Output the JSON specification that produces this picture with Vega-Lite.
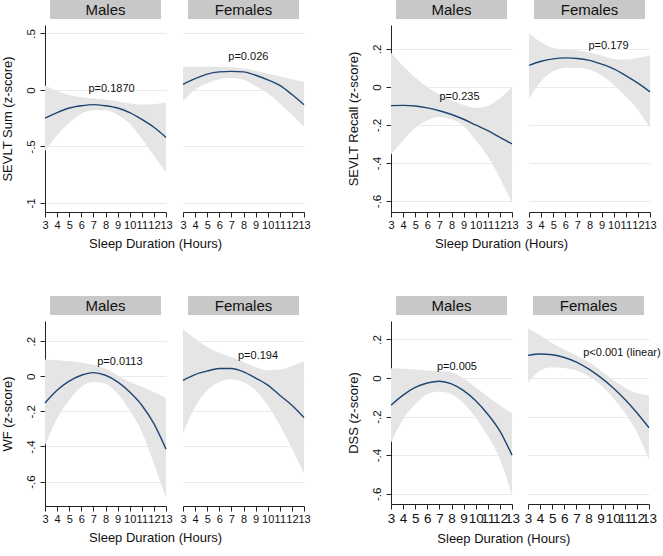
{
  "$schema": "https://vega.github.io/schema/vega-lite/v6.json",
  "padding": 0,
  "background": "white",
  "datasets": {
    "curves": [
      {"panel":"A","sex":"Males","hours":3,"fit":-0.25,"lower":-0.54,"upper":0.04},
      {"panel":"A","sex":"Males","hours":4,"fit":-0.20,"lower":-0.40,"upper":-0.01},
      {"panel":"A","sex":"Males","hours":5,"fit":-0.16,"lower":-0.29,"upper":-0.045},
      {"panel":"A","sex":"Males","hours":6,"fit":-0.14,"lower":-0.21,"upper":-0.065},
      {"panel":"A","sex":"Males","hours":7,"fit":-0.13,"lower":-0.18,"upper":-0.075},
      {"panel":"A","sex":"Males","hours":8,"fit":-0.14,"lower":-0.18,"upper":-0.085},
      {"panel":"A","sex":"Males","hours":9,"fit":-0.16,"lower":-0.22,"upper":-0.10},
      {"panel":"A","sex":"Males","hours":10,"fit":-0.20,"lower":-0.30,"upper":-0.12},
      {"panel":"A","sex":"Males","hours":11,"fit":-0.26,"lower":-0.43,"upper":-0.13},
      {"panel":"A","sex":"Males","hours":12,"fit":-0.33,"lower":-0.58,"upper":-0.125},
      {"panel":"A","sex":"Males","hours":13,"fit":-0.42,"lower":-0.73,"upper":-0.11},
      {"panel":"A","sex":"Females","hours":3,"fit":0.05,"lower":-0.10,"upper":0.205},
      {"panel":"A","sex":"Females","hours":4,"fit":0.10,"lower":0.005,"upper":0.205},
      {"panel":"A","sex":"Females","hours":5,"fit":0.14,"lower":0.06,"upper":0.205},
      {"panel":"A","sex":"Females","hours":6,"fit":0.16,"lower":0.095,"upper":0.205},
      {"panel":"A","sex":"Females","hours":7,"fit":0.165,"lower":0.105,"upper":0.20},
      {"panel":"A","sex":"Females","hours":8,"fit":0.16,"lower":0.09,"upper":0.19},
      {"panel":"A","sex":"Females","hours":9,"fit":0.13,"lower":0.035,"upper":0.17},
      {"panel":"A","sex":"Females","hours":10,"fit":0.09,"lower":-0.03,"upper":0.145},
      {"panel":"A","sex":"Females","hours":11,"fit":0.04,"lower":-0.12,"upper":0.12},
      {"panel":"A","sex":"Females","hours":12,"fit":-0.04,"lower":-0.22,"upper":0.095},
      {"panel":"A","sex":"Females","hours":13,"fit":-0.13,"lower":-0.325,"upper":0.07},
      {"panel":"B","sex":"Males","hours":3,"fit":-0.098,"lower":-0.356,"upper":0.18},
      {"panel":"B","sex":"Males","hours":4,"fit":-0.097,"lower":-0.28,"upper":0.11},
      {"panel":"B","sex":"Males","hours":5,"fit":-0.10,"lower":-0.215,"upper":0.05},
      {"panel":"B","sex":"Males","hours":6,"fit":-0.11,"lower":-0.175,"upper":0.0},
      {"panel":"B","sex":"Males","hours":7,"fit":-0.125,"lower":-0.158,"upper":-0.04},
      {"panel":"B","sex":"Males","hours":8,"fit":-0.145,"lower":-0.17,"upper":-0.07},
      {"panel":"B","sex":"Males","hours":9,"fit":-0.17,"lower":-0.205,"upper":-0.095},
      {"panel":"B","sex":"Males","hours":10,"fit":-0.20,"lower":-0.28,"upper":-0.11},
      {"panel":"B","sex":"Males","hours":11,"fit":-0.23,"lower":-0.365,"upper":-0.10},
      {"panel":"B","sex":"Males","hours":12,"fit":-0.265,"lower":-0.48,"upper":-0.06},
      {"panel":"B","sex":"Males","hours":13,"fit":-0.30,"lower":-0.61,"upper":0.0},
      {"panel":"B","sex":"Females","hours":3,"fit":0.114,"lower":-0.061,"upper":0.284},
      {"panel":"B","sex":"Females","hours":4,"fit":0.135,"lower":0.03,"upper":0.235},
      {"panel":"B","sex":"Females","hours":5,"fit":0.148,"lower":0.082,"upper":0.205},
      {"panel":"B","sex":"Females","hours":6,"fit":0.153,"lower":0.10,"upper":0.196},
      {"panel":"B","sex":"Females","hours":7,"fit":0.15,"lower":0.10,"upper":0.193},
      {"panel":"B","sex":"Females","hours":8,"fit":0.14,"lower":0.09,"upper":0.18},
      {"panel":"B","sex":"Females","hours":9,"fit":0.12,"lower":0.06,"upper":0.165},
      {"panel":"B","sex":"Females","hours":10,"fit":0.095,"lower":0.012,"upper":0.147},
      {"panel":"B","sex":"Females","hours":11,"fit":0.06,"lower":-0.05,"upper":0.144},
      {"panel":"B","sex":"Females","hours":12,"fit":0.02,"lower":-0.12,"upper":0.153},
      {"panel":"B","sex":"Females","hours":13,"fit":-0.026,"lower":-0.216,"upper":0.165},
      {"panel":"C","sex":"Males","hours":3,"fit":-0.152,"lower":-0.393,"upper":0.095},
      {"panel":"C","sex":"Males","hours":4,"fit":-0.08,"lower":-0.24,"upper":0.091},
      {"panel":"C","sex":"Males","hours":5,"fit":-0.028,"lower":-0.137,"upper":0.085},
      {"panel":"C","sex":"Males","hours":6,"fit":0.006,"lower":-0.06,"upper":0.078},
      {"panel":"C","sex":"Males","hours":7,"fit":0.021,"lower":-0.032,"upper":0.066},
      {"panel":"C","sex":"Males","hours":8,"fit":0.006,"lower":-0.042,"upper":0.044},
      {"panel":"C","sex":"Males","hours":9,"fit":-0.032,"lower":-0.099,"upper":0.006},
      {"panel":"C","sex":"Males","hours":10,"fit":-0.09,"lower":-0.194,"upper":-0.032},
      {"panel":"C","sex":"Males","hours":11,"fit":-0.165,"lower":-0.317,"upper":-0.06},
      {"panel":"C","sex":"Males","hours":12,"fit":-0.27,"lower":-0.497,"upper":-0.09},
      {"panel":"C","sex":"Males","hours":13,"fit":-0.415,"lower":-0.696,"upper":-0.123},
      {"panel":"C","sex":"Females","hours":3,"fit":-0.023,"lower":-0.323,"upper":0.27},
      {"panel":"C","sex":"Females","hours":4,"fit":0.01,"lower":-0.175,"upper":0.214},
      {"panel":"C","sex":"Females","hours":5,"fit":0.03,"lower":-0.08,"upper":0.167},
      {"panel":"C","sex":"Females","hours":6,"fit":0.044,"lower":-0.032,"upper":0.133},
      {"panel":"C","sex":"Females","hours":7,"fit":0.044,"lower":-0.017,"upper":0.11},
      {"panel":"C","sex":"Females","hours":8,"fit":0.025,"lower":-0.032,"upper":0.082},
      {"panel":"C","sex":"Females","hours":9,"fit":-0.01,"lower":-0.08,"upper":0.053},
      {"panel":"C","sex":"Females","hours":10,"fit":-0.05,"lower":-0.165,"upper":0.034},
      {"panel":"C","sex":"Females","hours":11,"fit":-0.108,"lower":-0.279,"upper":0.038},
      {"panel":"C","sex":"Females","hours":12,"fit":-0.165,"lower":-0.41,"upper":0.057},
      {"panel":"C","sex":"Females","hours":13,"fit":-0.235,"lower":-0.554,"upper":0.085},
      {"panel":"D","sex":"Males","hours":3,"fit":-0.141,"lower":-0.336,"upper":0.05},
      {"panel":"D","sex":"Males","hours":4,"fit":-0.089,"lower":-0.214,"upper":0.047},
      {"panel":"D","sex":"Males","hours":5,"fit":-0.049,"lower":-0.136,"upper":0.044},
      {"panel":"D","sex":"Males","hours":6,"fit":-0.026,"lower":-0.084,"upper":0.038},
      {"panel":"D","sex":"Males","hours":7,"fit":-0.017,"lower":-0.07,"upper":0.035},
      {"panel":"D","sex":"Males","hours":8,"fit":-0.031,"lower":-0.084,"upper":0.03},
      {"panel":"D","sex":"Males","hours":9,"fit":-0.066,"lower":-0.131,"upper":-0.002},
      {"panel":"D","sex":"Males","hours":10,"fit":-0.118,"lower":-0.206,"upper":-0.049},
      {"panel":"D","sex":"Males","hours":11,"fit":-0.188,"lower":-0.30,"upper":-0.096},
      {"panel":"D","sex":"Males","hours":12,"fit":-0.275,"lower":-0.42,"upper":-0.141},
      {"panel":"D","sex":"Males","hours":13,"fit":-0.40,"lower":-0.61,"upper":-0.183},
      {"panel":"D","sex":"Females","hours":3,"fit":0.117,"lower":-0.023,"upper":0.256},
      {"panel":"D","sex":"Females","hours":4,"fit":0.124,"lower":0.038,"upper":0.221},
      {"panel":"D","sex":"Females","hours":5,"fit":0.12,"lower":0.056,"upper":0.181},
      {"panel":"D","sex":"Females","hours":6,"fit":0.106,"lower":0.052,"upper":0.146},
      {"panel":"D","sex":"Females","hours":7,"fit":0.082,"lower":0.038,"upper":0.117},
      {"panel":"D","sex":"Females","hours":8,"fit":0.047,"lower":0.009,"upper":0.082},
      {"panel":"D","sex":"Females","hours":9,"fit":0.003,"lower":-0.037,"upper":0.038},
      {"panel":"D","sex":"Females","hours":10,"fit":-0.049,"lower":-0.101,"upper":-0.009},
      {"panel":"D","sex":"Females","hours":11,"fit":-0.11,"lower":-0.18,"upper":-0.049},
      {"panel":"D","sex":"Females","hours":12,"fit":-0.18,"lower":-0.28,"upper":-0.078},
      {"panel":"D","sex":"Females","hours":13,"fit":-0.258,"lower":-0.423,"upper":-0.089}
    ],
    "pvals": [
      {"panel":"A","sex":"Males","hours":8.5,"y":0.005,"label":"p=0.1870"},
      {"panel":"A","sex":"Females","hours":8.4,"y":0.288,"label":"p=0.026"},
      {"panel":"B","sex":"Males","hours":8.66,"y":-0.053,"label":"p=0.235"},
      {"panel":"B","sex":"Females","hours":9.57,"y":0.214,"label":"p=0.179"},
      {"panel":"C","sex":"Males","hours":9.19,"y":0.082,"label":"p=0.0113"},
      {"panel":"C","sex":"Females","hours":9.2,"y":0.116,"label":"p=0.194"},
      {"panel":"D","sex":"Males","hours":8.45,"y":0.056,"label":"p=0.005"},
      {"panel":"D","sex":"Females","hours":10.76,"y":0.129,"label":"p<0.001 (linear)"}
    ]
  },
  "vconcat": [
    {"spacing": 36, "hconcat": [
      {"title": {"text": "Sleep Duration (Hours)", "orient": "bottom", "offset": 8, "fontSize": 13, "fontWeight": "normal", "font": "Liberation Sans", "color": "#111", "anchor": "middle"},
       "spacing": 6, "hconcat": [
        {"spacing": 6, "bounds": "flush", "center": true, "vconcat": [
          {"width": 111, "height": 19, "data": {"values": [{"sex": "Males"}]}, "view": {"fill": "#c8c8c8", "stroke": null},
           "mark": {"type": "text", "fontSize": 15, "font": "Liberation Sans", "baseline": "middle", "align": "center", "color": "#111"},
           "encoding": {"text": {"field": "sex"}}},
          {"width": 121, "height": 187, "layer": [
            {"data": {"name": "curves"}, "transform": [{"filter": "datum.panel == 'A' && datum.sex == 'Males'"}],
             "mark": {"type": "area", "color": "#e5e5e5", "interpolate": "monotone"},
             "encoding": {
               "x": {"field": "hours", "type": "quantitative", "scale": {"domain": [3, 13], "nice": false, "zero": false}, "axis": {"values": [3,4,5,6,7,8,9,10,11,12,13], "title": null, "domain": true, "ticks": true, "labels": true, "grid": false, "labelOverlap": false, "labelFlush": false, "domainColor": "#222", "tickColor": "#222", "tickSize": 5, "labelPadding": 2, "labelFontSize": 11, "labelFont": "Liberation Sans", "labelColor": "#111"}},
               "y": {"field": "lower", "type": "quantitative", "scale": {"domain": [-1.08, 0.575], "nice": false, "zero": false}, "axis": {"values": [-1, -0.5, 0, 0.5], "title": "SEVLT Sum (z-score)", "domain": true, "ticks": true, "labels": true, "grid": true, "gridColor": "#e4ecef", "labelOverlap": false, "labelFlush": false, "labelAngle": -90, "labelAlign": "center", "labelBaseline": "bottom", "labelPadding": 4, "labelFontSize": 11.5, "labelFont": "Liberation Sans", "labelColor": "#111", "labelExpr": "datum.value == 0 ? '0' : (datum.value < 0 ? '-' : '') + replace(format(abs(datum.value), '.1~f'), '0.', '.')", "domainColor": "#222", "tickColor": "#222", "tickSize": 5, "titlePadding": 11, "titleFont": "Liberation Sans", "titleFontSize": 13, "titleFontWeight": "normal", "titleColor": "#111"}},
               "y2": {"field": "upper"}}},
            {"data": {"name": "curves"}, "transform": [{"filter": "datum.panel == 'A' && datum.sex == 'Males'"}],
             "mark": {"type": "line", "color": "#1f4672", "strokeWidth": 1.4, "interpolate": "monotone"},
             "encoding": {
               "x": {"field": "hours", "type": "quantitative", "axis": {"values": [3,4,5,6,7,8,9,10,11,12,13], "title": null, "domain": true, "ticks": true, "labels": true, "grid": false, "labelOverlap": false, "labelFlush": false, "domainColor": "#222", "tickColor": "#222", "tickSize": 5, "labelPadding": 2, "labelFontSize": 11, "labelFont": "Liberation Sans", "labelColor": "#111"}},
               "y": {"field": "fit", "type": "quantitative", "axis": {"values": [-1, -0.5, 0, 0.5], "title": "SEVLT Sum (z-score)", "domain": true, "ticks": true, "labels": true, "grid": true, "gridColor": "#e4ecef", "labelOverlap": false, "labelFlush": false, "labelAngle": -90, "labelAlign": "center", "labelBaseline": "bottom", "labelPadding": 4, "labelFontSize": 11.5, "labelFont": "Liberation Sans", "labelColor": "#111", "labelExpr": "datum.value == 0 ? '0' : (datum.value < 0 ? '-' : '') + replace(format(abs(datum.value), '.1~f'), '0.', '.')", "domainColor": "#222", "tickColor": "#222", "tickSize": 5, "titlePadding": 11, "titleFont": "Liberation Sans", "titleFontSize": 13, "titleFontWeight": "normal", "titleColor": "#111"}}}},
            {"data": {"name": "pvals"}, "transform": [{"filter": "datum.panel == 'A' && datum.sex == 'Males'"}],
             "mark": {"type": "text", "fontSize": 11, "font": "Liberation Sans", "baseline": "middle", "align": "center", "color": "#111"},
             "encoding": {
               "x": {"field": "hours", "type": "quantitative", "axis": {"values": [3,4,5,6,7,8,9,10,11,12,13], "title": null, "domain": true, "ticks": true, "labels": true, "grid": false, "labelOverlap": false, "labelFlush": false, "domainColor": "#222", "tickColor": "#222", "tickSize": 5, "labelPadding": 2, "labelFontSize": 11, "labelFont": "Liberation Sans", "labelColor": "#111"}},
               "y": {"field": "y", "type": "quantitative", "axis": {"values": [-1, -0.5, 0, 0.5], "title": "SEVLT Sum (z-score)", "domain": true, "ticks": true, "labels": true, "grid": true, "gridColor": "#e4ecef", "labelOverlap": false, "labelFlush": false, "labelAngle": -90, "labelAlign": "center", "labelBaseline": "bottom", "labelPadding": 4, "labelFontSize": 11.5, "labelFont": "Liberation Sans", "labelColor": "#111", "labelExpr": "datum.value == 0 ? '0' : (datum.value < 0 ? '-' : '') + replace(format(abs(datum.value), '.1~f'), '0.', '.')", "domainColor": "#222", "tickColor": "#222", "tickSize": 5, "titlePadding": 11, "titleFont": "Liberation Sans", "titleFontSize": 13, "titleFontWeight": "normal", "titleColor": "#111"}},
               "text": {"field": "label"}}}
          ]}
        ]},
        {"spacing": 6, "bounds": "flush", "center": true, "vconcat": [
          {"width": 111, "height": 19, "data": {"values": [{"sex": "Females"}]}, "view": {"fill": "#c8c8c8", "stroke": null},
           "mark": {"type": "text", "fontSize": 15, "font": "Liberation Sans", "baseline": "middle", "align": "center", "color": "#111"},
           "encoding": {"text": {"field": "sex"}}},
          {"width": 121, "height": 187, "layer": [
            {"data": {"name": "curves"}, "transform": [{"filter": "datum.panel == 'A' && datum.sex == 'Females'"}],
             "mark": {"type": "area", "color": "#e5e5e5", "interpolate": "monotone"},
             "encoding": {
               "x": {"field": "hours", "type": "quantitative", "scale": {"domain": [3, 13], "nice": false, "zero": false}, "axis": {"values": [3,4,5,6,7,8,9,10,11,12,13], "title": null, "domain": true, "ticks": true, "labels": true, "grid": false, "labelOverlap": false, "labelFlush": false, "domainColor": "#222", "tickColor": "#222", "tickSize": 5, "labelPadding": 2, "labelFontSize": 11, "labelFont": "Liberation Sans", "labelColor": "#111"}},
               "y": {"field": "lower", "type": "quantitative", "scale": {"domain": [-1.08, 0.575], "nice": false, "zero": false}, "axis": {"values": [-1, -0.5, 0, 0.5], "title": null, "domain": false, "ticks": false, "labels": false, "grid": true, "gridColor": "#e4ecef"}},
               "y2": {"field": "upper"}}},
            {"data": {"name": "curves"}, "transform": [{"filter": "datum.panel == 'A' && datum.sex == 'Females'"}],
             "mark": {"type": "line", "color": "#1f4672", "strokeWidth": 1.4, "interpolate": "monotone"},
             "encoding": {
               "x": {"field": "hours", "type": "quantitative", "axis": {"values": [3,4,5,6,7,8,9,10,11,12,13], "title": null, "domain": true, "ticks": true, "labels": true, "grid": false, "labelOverlap": false, "labelFlush": false, "domainColor": "#222", "tickColor": "#222", "tickSize": 5, "labelPadding": 2, "labelFontSize": 11, "labelFont": "Liberation Sans", "labelColor": "#111"}},
               "y": {"field": "fit", "type": "quantitative", "axis": {"values": [-1, -0.5, 0, 0.5], "title": null, "domain": false, "ticks": false, "labels": false, "grid": true, "gridColor": "#e4ecef"}}}},
            {"data": {"name": "pvals"}, "transform": [{"filter": "datum.panel == 'A' && datum.sex == 'Females'"}],
             "mark": {"type": "text", "fontSize": 11, "font": "Liberation Sans", "baseline": "middle", "align": "center", "color": "#111"},
             "encoding": {
               "x": {"field": "hours", "type": "quantitative", "axis": {"values": [3,4,5,6,7,8,9,10,11,12,13], "title": null, "domain": true, "ticks": true, "labels": true, "grid": false, "labelOverlap": false, "labelFlush": false, "domainColor": "#222", "tickColor": "#222", "tickSize": 5, "labelPadding": 2, "labelFontSize": 11, "labelFont": "Liberation Sans", "labelColor": "#111"}},
               "y": {"field": "y", "type": "quantitative", "axis": {"values": [-1, -0.5, 0, 0.5], "title": null, "domain": false, "ticks": false, "labels": false, "grid": true, "gridColor": "#e4ecef"}},
               "text": {"field": "label"}}}
          ]}
        ]}
      ]},
      {"title": {"text": "Sleep Duration (Hours)", "orient": "bottom", "offset": 8, "fontSize": 13, "fontWeight": "normal", "font": "Liberation Sans", "color": "#111", "anchor": "middle"},
       "spacing": 6, "hconcat": [
        {"spacing": 6, "bounds": "flush", "center": true, "vconcat": [
          {"width": 111, "height": 19, "data": {"values": [{"sex": "Males"}]}, "view": {"fill": "#c8c8c8", "stroke": null},
           "mark": {"type": "text", "fontSize": 15, "font": "Liberation Sans", "baseline": "middle", "align": "center", "color": "#111"},
           "encoding": {"text": {"field": "sex"}}},
          {"width": 121, "height": 187, "layer": [
            {"data": {"name": "curves"}, "transform": [{"filter": "datum.panel == 'B' && datum.sex == 'Males'"}],
             "mark": {"type": "area", "color": "#e5e5e5", "interpolate": "monotone"},
             "encoding": {
               "x": {"field": "hours", "type": "quantitative", "scale": {"domain": [3, 13], "nice": false, "zero": false}, "axis": {"values": [3,4,5,6,7,8,9,10,11,12,13], "title": null, "domain": true, "ticks": true, "labels": true, "grid": false, "labelOverlap": false, "labelFlush": false, "domainColor": "#222", "tickColor": "#222", "tickSize": 5, "labelPadding": 2, "labelFontSize": 11, "labelFont": "Liberation Sans", "labelColor": "#111"}},
               "y": {"field": "lower", "type": "quantitative", "scale": {"domain": [-0.658, 0.326], "nice": false, "zero": false}, "axis": {"values": [-0.6, -0.4, -0.2, 0, 0.2], "title": "SEVLT Recall (z-score)", "domain": true, "ticks": true, "labels": true, "grid": true, "gridColor": "#e4ecef", "labelOverlap": false, "labelFlush": false, "labelAngle": -90, "labelAlign": "center", "labelBaseline": "bottom", "labelPadding": 4, "labelFontSize": 11.5, "labelFont": "Liberation Sans", "labelColor": "#111", "labelExpr": "datum.value == 0 ? '0' : (datum.value < 0 ? '-' : '') + replace(format(abs(datum.value), '.1~f'), '0.', '.')", "domainColor": "#222", "tickColor": "#222", "tickSize": 5, "titlePadding": 11, "titleFont": "Liberation Sans", "titleFontSize": 13, "titleFontWeight": "normal", "titleColor": "#111"}},
               "y2": {"field": "upper"}}},
            {"data": {"name": "curves"}, "transform": [{"filter": "datum.panel == 'B' && datum.sex == 'Males'"}],
             "mark": {"type": "line", "color": "#1f4672", "strokeWidth": 1.4, "interpolate": "monotone"},
             "encoding": {
               "x": {"field": "hours", "type": "quantitative", "axis": {"values": [3,4,5,6,7,8,9,10,11,12,13], "title": null, "domain": true, "ticks": true, "labels": true, "grid": false, "labelOverlap": false, "labelFlush": false, "domainColor": "#222", "tickColor": "#222", "tickSize": 5, "labelPadding": 2, "labelFontSize": 11, "labelFont": "Liberation Sans", "labelColor": "#111"}},
               "y": {"field": "fit", "type": "quantitative", "axis": {"values": [-0.6, -0.4, -0.2, 0, 0.2], "title": "SEVLT Recall (z-score)", "domain": true, "ticks": true, "labels": true, "grid": true, "gridColor": "#e4ecef", "labelOverlap": false, "labelFlush": false, "labelAngle": -90, "labelAlign": "center", "labelBaseline": "bottom", "labelPadding": 4, "labelFontSize": 11.5, "labelFont": "Liberation Sans", "labelColor": "#111", "labelExpr": "datum.value == 0 ? '0' : (datum.value < 0 ? '-' : '') + replace(format(abs(datum.value), '.1~f'), '0.', '.')", "domainColor": "#222", "tickColor": "#222", "tickSize": 5, "titlePadding": 11, "titleFont": "Liberation Sans", "titleFontSize": 13, "titleFontWeight": "normal", "titleColor": "#111"}}}},
            {"data": {"name": "pvals"}, "transform": [{"filter": "datum.panel == 'B' && datum.sex == 'Males'"}],
             "mark": {"type": "text", "fontSize": 11, "font": "Liberation Sans", "baseline": "middle", "align": "center", "color": "#111"},
             "encoding": {
               "x": {"field": "hours", "type": "quantitative", "axis": {"values": [3,4,5,6,7,8,9,10,11,12,13], "title": null, "domain": true, "ticks": true, "labels": true, "grid": false, "labelOverlap": false, "labelFlush": false, "domainColor": "#222", "tickColor": "#222", "tickSize": 5, "labelPadding": 2, "labelFontSize": 11, "labelFont": "Liberation Sans", "labelColor": "#111"}},
               "y": {"field": "y", "type": "quantitative", "axis": {"values": [-0.6, -0.4, -0.2, 0, 0.2], "title": "SEVLT Recall (z-score)", "domain": true, "ticks": true, "labels": true, "grid": true, "gridColor": "#e4ecef", "labelOverlap": false, "labelFlush": false, "labelAngle": -90, "labelAlign": "center", "labelBaseline": "bottom", "labelPadding": 4, "labelFontSize": 11.5, "labelFont": "Liberation Sans", "labelColor": "#111", "labelExpr": "datum.value == 0 ? '0' : (datum.value < 0 ? '-' : '') + replace(format(abs(datum.value), '.1~f'), '0.', '.')", "domainColor": "#222", "tickColor": "#222", "tickSize": 5, "titlePadding": 11, "titleFont": "Liberation Sans", "titleFontSize": 13, "titleFontWeight": "normal", "titleColor": "#111"}},
               "text": {"field": "label"}}}
          ]}
        ]},
        {"spacing": 6, "bounds": "flush", "center": true, "vconcat": [
          {"width": 111, "height": 19, "data": {"values": [{"sex": "Females"}]}, "view": {"fill": "#c8c8c8", "stroke": null},
           "mark": {"type": "text", "fontSize": 15, "font": "Liberation Sans", "baseline": "middle", "align": "center", "color": "#111"},
           "encoding": {"text": {"field": "sex"}}},
          {"width": 121, "height": 187, "layer": [
            {"data": {"name": "curves"}, "transform": [{"filter": "datum.panel == 'B' && datum.sex == 'Females'"}],
             "mark": {"type": "area", "color": "#e5e5e5", "interpolate": "monotone"},
             "encoding": {
               "x": {"field": "hours", "type": "quantitative", "scale": {"domain": [3, 13], "nice": false, "zero": false}, "axis": {"values": [3,4,5,6,7,8,9,10,11,12,13], "title": null, "domain": true, "ticks": true, "labels": true, "grid": false, "labelOverlap": false, "labelFlush": false, "domainColor": "#222", "tickColor": "#222", "tickSize": 5, "labelPadding": 2, "labelFontSize": 11, "labelFont": "Liberation Sans", "labelColor": "#111"}},
               "y": {"field": "lower", "type": "quantitative", "scale": {"domain": [-0.658, 0.326], "nice": false, "zero": false}, "axis": {"values": [-0.6, -0.4, -0.2, 0, 0.2], "title": null, "domain": false, "ticks": false, "labels": false, "grid": true, "gridColor": "#e4ecef"}},
               "y2": {"field": "upper"}}},
            {"data": {"name": "curves"}, "transform": [{"filter": "datum.panel == 'B' && datum.sex == 'Females'"}],
             "mark": {"type": "line", "color": "#1f4672", "strokeWidth": 1.4, "interpolate": "monotone"},
             "encoding": {
               "x": {"field": "hours", "type": "quantitative", "axis": {"values": [3,4,5,6,7,8,9,10,11,12,13], "title": null, "domain": true, "ticks": true, "labels": true, "grid": false, "labelOverlap": false, "labelFlush": false, "domainColor": "#222", "tickColor": "#222", "tickSize": 5, "labelPadding": 2, "labelFontSize": 11, "labelFont": "Liberation Sans", "labelColor": "#111"}},
               "y": {"field": "fit", "type": "quantitative", "axis": {"values": [-0.6, -0.4, -0.2, 0, 0.2], "title": null, "domain": false, "ticks": false, "labels": false, "grid": true, "gridColor": "#e4ecef"}}}},
            {"data": {"name": "pvals"}, "transform": [{"filter": "datum.panel == 'B' && datum.sex == 'Females'"}],
             "mark": {"type": "text", "fontSize": 11, "font": "Liberation Sans", "baseline": "middle", "align": "center", "color": "#111"},
             "encoding": {
               "x": {"field": "hours", "type": "quantitative", "axis": {"values": [3,4,5,6,7,8,9,10,11,12,13], "title": null, "domain": true, "ticks": true, "labels": true, "grid": false, "labelOverlap": false, "labelFlush": false, "domainColor": "#222", "tickColor": "#222", "tickSize": 5, "labelPadding": 2, "labelFontSize": 11, "labelFont": "Liberation Sans", "labelColor": "#111"}},
               "y": {"field": "y", "type": "quantitative", "axis": {"values": [-0.6, -0.4, -0.2, 0, 0.2], "title": null, "domain": false, "ticks": false, "labels": false, "grid": true, "gridColor": "#e4ecef"}},
               "text": {"field": "label"}}}
          ]}
        ]}
      ]}
    ]},
    {"spacing": 36, "hconcat": [
      {"title": {"text": "Sleep Duration (Hours)", "orient": "bottom", "offset": 8, "fontSize": 13, "fontWeight": "normal", "font": "Liberation Sans", "color": "#111", "anchor": "middle"},
       "spacing": 6, "hconcat": [
        {"spacing": 6, "bounds": "flush", "center": true, "vconcat": [
          {"width": 111, "height": 19, "data": {"values": [{"sex": "Males"}]}, "view": {"fill": "#c8c8c8", "stroke": null},
           "mark": {"type": "text", "fontSize": 15, "font": "Liberation Sans", "baseline": "middle", "align": "center", "color": "#111"},
           "encoding": {"text": {"field": "sex"}}},
          {"width": 121, "height": 185, "layer": [
            {"data": {"name": "curves"}, "transform": [{"filter": "datum.panel == 'C' && datum.sex == 'Males'"}],
             "mark": {"type": "area", "color": "#e5e5e5", "interpolate": "monotone"},
             "encoding": {
               "x": {"field": "hours", "type": "quantitative", "scale": {"domain": [3, 13], "nice": false, "zero": false}, "axis": {"values": [3,4,5,6,7,8,9,10,11,12,13], "title": null, "domain": true, "ticks": true, "labels": true, "grid": false, "labelOverlap": false, "labelFlush": false, "domainColor": "#222", "tickColor": "#222", "tickSize": 5, "labelPadding": 2, "labelFontSize": 11, "labelFont": "Liberation Sans", "labelColor": "#111"}},
               "y": {"field": "lower", "type": "quantitative", "scale": {"domain": [-0.739, 0.315], "nice": false, "zero": false}, "axis": {"values": [-0.6, -0.4, -0.2, 0, 0.2], "title": "WF (z-score)", "domain": true, "ticks": true, "labels": true, "grid": true, "gridColor": "#e4ecef", "labelOverlap": false, "labelFlush": false, "labelAngle": -90, "labelAlign": "center", "labelBaseline": "bottom", "labelPadding": 4, "labelFontSize": 11.5, "labelFont": "Liberation Sans", "labelColor": "#111", "labelExpr": "datum.value == 0 ? '0' : (datum.value < 0 ? '-' : '') + replace(format(abs(datum.value), '.1~f'), '0.', '.')", "domainColor": "#222", "tickColor": "#222", "tickSize": 5, "titlePadding": 11, "titleFont": "Liberation Sans", "titleFontSize": 13, "titleFontWeight": "normal", "titleColor": "#111"}},
               "y2": {"field": "upper"}}},
            {"data": {"name": "curves"}, "transform": [{"filter": "datum.panel == 'C' && datum.sex == 'Males'"}],
             "mark": {"type": "line", "color": "#1f4672", "strokeWidth": 1.4, "interpolate": "monotone"},
             "encoding": {
               "x": {"field": "hours", "type": "quantitative", "axis": {"values": [3,4,5,6,7,8,9,10,11,12,13], "title": null, "domain": true, "ticks": true, "labels": true, "grid": false, "labelOverlap": false, "labelFlush": false, "domainColor": "#222", "tickColor": "#222", "tickSize": 5, "labelPadding": 2, "labelFontSize": 11, "labelFont": "Liberation Sans", "labelColor": "#111"}},
               "y": {"field": "fit", "type": "quantitative", "axis": {"values": [-0.6, -0.4, -0.2, 0, 0.2], "title": "WF (z-score)", "domain": true, "ticks": true, "labels": true, "grid": true, "gridColor": "#e4ecef", "labelOverlap": false, "labelFlush": false, "labelAngle": -90, "labelAlign": "center", "labelBaseline": "bottom", "labelPadding": 4, "labelFontSize": 11.5, "labelFont": "Liberation Sans", "labelColor": "#111", "labelExpr": "datum.value == 0 ? '0' : (datum.value < 0 ? '-' : '') + replace(format(abs(datum.value), '.1~f'), '0.', '.')", "domainColor": "#222", "tickColor": "#222", "tickSize": 5, "titlePadding": 11, "titleFont": "Liberation Sans", "titleFontSize": 13, "titleFontWeight": "normal", "titleColor": "#111"}}}},
            {"data": {"name": "pvals"}, "transform": [{"filter": "datum.panel == 'C' && datum.sex == 'Males'"}],
             "mark": {"type": "text", "fontSize": 11, "font": "Liberation Sans", "baseline": "middle", "align": "center", "color": "#111"},
             "encoding": {
               "x": {"field": "hours", "type": "quantitative", "axis": {"values": [3,4,5,6,7,8,9,10,11,12,13], "title": null, "domain": true, "ticks": true, "labels": true, "grid": false, "labelOverlap": false, "labelFlush": false, "domainColor": "#222", "tickColor": "#222", "tickSize": 5, "labelPadding": 2, "labelFontSize": 11, "labelFont": "Liberation Sans", "labelColor": "#111"}},
               "y": {"field": "y", "type": "quantitative", "axis": {"values": [-0.6, -0.4, -0.2, 0, 0.2], "title": "WF (z-score)", "domain": true, "ticks": true, "labels": true, "grid": true, "gridColor": "#e4ecef", "labelOverlap": false, "labelFlush": false, "labelAngle": -90, "labelAlign": "center", "labelBaseline": "bottom", "labelPadding": 4, "labelFontSize": 11.5, "labelFont": "Liberation Sans", "labelColor": "#111", "labelExpr": "datum.value == 0 ? '0' : (datum.value < 0 ? '-' : '') + replace(format(abs(datum.value), '.1~f'), '0.', '.')", "domainColor": "#222", "tickColor": "#222", "tickSize": 5, "titlePadding": 11, "titleFont": "Liberation Sans", "titleFontSize": 13, "titleFontWeight": "normal", "titleColor": "#111"}},
               "text": {"field": "label"}}}
          ]}
        ]},
        {"spacing": 6, "bounds": "flush", "center": true, "vconcat": [
          {"width": 111, "height": 19, "data": {"values": [{"sex": "Females"}]}, "view": {"fill": "#c8c8c8", "stroke": null},
           "mark": {"type": "text", "fontSize": 15, "font": "Liberation Sans", "baseline": "middle", "align": "center", "color": "#111"},
           "encoding": {"text": {"field": "sex"}}},
          {"width": 121, "height": 185, "layer": [
            {"data": {"name": "curves"}, "transform": [{"filter": "datum.panel == 'C' && datum.sex == 'Females'"}],
             "mark": {"type": "area", "color": "#e5e5e5", "interpolate": "monotone"},
             "encoding": {
               "x": {"field": "hours", "type": "quantitative", "scale": {"domain": [3, 13], "nice": false, "zero": false}, "axis": {"values": [3,4,5,6,7,8,9,10,11,12,13], "title": null, "domain": true, "ticks": true, "labels": true, "grid": false, "labelOverlap": false, "labelFlush": false, "domainColor": "#222", "tickColor": "#222", "tickSize": 5, "labelPadding": 2, "labelFontSize": 11, "labelFont": "Liberation Sans", "labelColor": "#111"}},
               "y": {"field": "lower", "type": "quantitative", "scale": {"domain": [-0.739, 0.315], "nice": false, "zero": false}, "axis": {"values": [-0.6, -0.4, -0.2, 0, 0.2], "title": null, "domain": false, "ticks": false, "labels": false, "grid": true, "gridColor": "#e4ecef"}},
               "y2": {"field": "upper"}}},
            {"data": {"name": "curves"}, "transform": [{"filter": "datum.panel == 'C' && datum.sex == 'Females'"}],
             "mark": {"type": "line", "color": "#1f4672", "strokeWidth": 1.4, "interpolate": "monotone"},
             "encoding": {
               "x": {"field": "hours", "type": "quantitative", "axis": {"values": [3,4,5,6,7,8,9,10,11,12,13], "title": null, "domain": true, "ticks": true, "labels": true, "grid": false, "labelOverlap": false, "labelFlush": false, "domainColor": "#222", "tickColor": "#222", "tickSize": 5, "labelPadding": 2, "labelFontSize": 11, "labelFont": "Liberation Sans", "labelColor": "#111"}},
               "y": {"field": "fit", "type": "quantitative", "axis": {"values": [-0.6, -0.4, -0.2, 0, 0.2], "title": null, "domain": false, "ticks": false, "labels": false, "grid": true, "gridColor": "#e4ecef"}}}},
            {"data": {"name": "pvals"}, "transform": [{"filter": "datum.panel == 'C' && datum.sex == 'Females'"}],
             "mark": {"type": "text", "fontSize": 11, "font": "Liberation Sans", "baseline": "middle", "align": "center", "color": "#111"},
             "encoding": {
               "x": {"field": "hours", "type": "quantitative", "axis": {"values": [3,4,5,6,7,8,9,10,11,12,13], "title": null, "domain": true, "ticks": true, "labels": true, "grid": false, "labelOverlap": false, "labelFlush": false, "domainColor": "#222", "tickColor": "#222", "tickSize": 5, "labelPadding": 2, "labelFontSize": 11, "labelFont": "Liberation Sans", "labelColor": "#111"}},
               "y": {"field": "y", "type": "quantitative", "axis": {"values": [-0.6, -0.4, -0.2, 0, 0.2], "title": null, "domain": false, "ticks": false, "labels": false, "grid": true, "gridColor": "#e4ecef"}},
               "text": {"field": "label"}}}
          ]}
        ]}
      ]},
      {"title": {"text": "Sleep Duration (Hours)", "orient": "bottom", "offset": 8, "fontSize": 13, "fontWeight": "normal", "font": "Liberation Sans", "color": "#111", "anchor": "middle"},
       "spacing": 4, "hconcat": [
        {"spacing": 6, "bounds": "flush", "center": true, "vconcat": [
          {"width": 111, "height": 19, "data": {"values": [{"sex": "Males"}]}, "view": {"fill": "#c8c8c8", "stroke": null},
           "mark": {"type": "text", "fontSize": 15, "font": "Liberation Sans", "baseline": "middle", "align": "center", "color": "#111"},
           "encoding": {"text": {"field": "sex"}}},
          {"width": 121, "height": 183, "layer": [
            {"data": {"name": "curves"}, "transform": [{"filter": "datum.panel == 'D' && datum.sex == 'Males'"}],
             "mark": {"type": "area", "color": "#e5e5e5", "interpolate": "monotone"},
             "encoding": {
               "x": {"field": "hours", "type": "quantitative", "scale": {"domain": [3, 13], "nice": false, "zero": false}, "axis": {"values": [3,4,5,6,7,8,9,10,11,12,13], "title": null, "domain": true, "ticks": true, "labels": true, "grid": false, "labelOverlap": false, "labelFlush": false, "domainColor": "#222", "tickColor": "#222", "tickSize": 5, "labelPadding": 2, "labelFontSize": 13.5, "labelFont": "Liberation Sans", "labelColor": "#111"}},
               "y": {"field": "lower", "type": "quantitative", "scale": {"domain": [-0.653, 0.295], "nice": false, "zero": false}, "axis": {"values": [-0.6, -0.4, -0.2, 0, 0.2], "title": "DSS (z-score)", "domain": true, "ticks": true, "labels": true, "grid": true, "gridColor": "#e4ecef", "labelOverlap": false, "labelFlush": false, "labelAngle": -90, "labelAlign": "center", "labelBaseline": "bottom", "labelPadding": 4, "labelFontSize": 11.5, "labelFont": "Liberation Sans", "labelColor": "#111", "labelExpr": "datum.value == 0 ? '0' : (datum.value < 0 ? '-' : '') + replace(format(abs(datum.value), '.1~f'), '0.', '.')", "domainColor": "#222", "tickColor": "#222", "tickSize": 5, "titlePadding": 11, "titleFont": "Liberation Sans", "titleFontSize": 13, "titleFontWeight": "normal", "titleColor": "#111"}},
               "y2": {"field": "upper"}}},
            {"data": {"name": "curves"}, "transform": [{"filter": "datum.panel == 'D' && datum.sex == 'Males'"}],
             "mark": {"type": "line", "color": "#1f4672", "strokeWidth": 1.4, "interpolate": "monotone"},
             "encoding": {
               "x": {"field": "hours", "type": "quantitative", "axis": {"values": [3,4,5,6,7,8,9,10,11,12,13], "title": null, "domain": true, "ticks": true, "labels": true, "grid": false, "labelOverlap": false, "labelFlush": false, "domainColor": "#222", "tickColor": "#222", "tickSize": 5, "labelPadding": 2, "labelFontSize": 13.5, "labelFont": "Liberation Sans", "labelColor": "#111"}},
               "y": {"field": "fit", "type": "quantitative", "axis": {"values": [-0.6, -0.4, -0.2, 0, 0.2], "title": "DSS (z-score)", "domain": true, "ticks": true, "labels": true, "grid": true, "gridColor": "#e4ecef", "labelOverlap": false, "labelFlush": false, "labelAngle": -90, "labelAlign": "center", "labelBaseline": "bottom", "labelPadding": 4, "labelFontSize": 11.5, "labelFont": "Liberation Sans", "labelColor": "#111", "labelExpr": "datum.value == 0 ? '0' : (datum.value < 0 ? '-' : '') + replace(format(abs(datum.value), '.1~f'), '0.', '.')", "domainColor": "#222", "tickColor": "#222", "tickSize": 5, "titlePadding": 11, "titleFont": "Liberation Sans", "titleFontSize": 13, "titleFontWeight": "normal", "titleColor": "#111"}}}},
            {"data": {"name": "pvals"}, "transform": [{"filter": "datum.panel == 'D' && datum.sex == 'Males'"}],
             "mark": {"type": "text", "fontSize": 11, "font": "Liberation Sans", "baseline": "middle", "align": "center", "color": "#111"},
             "encoding": {
               "x": {"field": "hours", "type": "quantitative", "axis": {"values": [3,4,5,6,7,8,9,10,11,12,13], "title": null, "domain": true, "ticks": true, "labels": true, "grid": false, "labelOverlap": false, "labelFlush": false, "domainColor": "#222", "tickColor": "#222", "tickSize": 5, "labelPadding": 2, "labelFontSize": 13.5, "labelFont": "Liberation Sans", "labelColor": "#111"}},
               "y": {"field": "y", "type": "quantitative", "axis": {"values": [-0.6, -0.4, -0.2, 0, 0.2], "title": "DSS (z-score)", "domain": true, "ticks": true, "labels": true, "grid": true, "gridColor": "#e4ecef", "labelOverlap": false, "labelFlush": false, "labelAngle": -90, "labelAlign": "center", "labelBaseline": "bottom", "labelPadding": 4, "labelFontSize": 11.5, "labelFont": "Liberation Sans", "labelColor": "#111", "labelExpr": "datum.value == 0 ? '0' : (datum.value < 0 ? '-' : '') + replace(format(abs(datum.value), '.1~f'), '0.', '.')", "domainColor": "#222", "tickColor": "#222", "tickSize": 5, "titlePadding": 11, "titleFont": "Liberation Sans", "titleFontSize": 13, "titleFontWeight": "normal", "titleColor": "#111"}},
               "text": {"field": "label"}}}
          ]}
        ]},
        {"spacing": 6, "bounds": "flush", "center": true, "vconcat": [
          {"width": 111, "height": 19, "data": {"values": [{"sex": "Females"}]}, "view": {"fill": "#c8c8c8", "stroke": null},
           "mark": {"type": "text", "fontSize": 15, "font": "Liberation Sans", "baseline": "middle", "align": "center", "color": "#111"},
           "encoding": {"text": {"field": "sex"}}},
          {"width": 121, "height": 183, "layer": [
            {"data": {"name": "curves"}, "transform": [{"filter": "datum.panel == 'D' && datum.sex == 'Females'"}],
             "mark": {"type": "area", "color": "#e5e5e5", "interpolate": "monotone"},
             "encoding": {
               "x": {"field": "hours", "type": "quantitative", "scale": {"domain": [3, 13], "nice": false, "zero": false}, "axis": {"values": [3,4,5,6,7,8,9,10,11,12,13], "title": null, "domain": true, "ticks": true, "labels": true, "grid": false, "labelOverlap": false, "labelFlush": false, "domainColor": "#222", "tickColor": "#222", "tickSize": 5, "labelPadding": 2, "labelFontSize": 13.5, "labelFont": "Liberation Sans", "labelColor": "#111"}},
               "y": {"field": "lower", "type": "quantitative", "scale": {"domain": [-0.653, 0.295], "nice": false, "zero": false}, "axis": {"values": [-0.6, -0.4, -0.2, 0, 0.2], "title": null, "domain": false, "ticks": false, "labels": false, "grid": true, "gridColor": "#e4ecef"}},
               "y2": {"field": "upper"}}},
            {"data": {"name": "curves"}, "transform": [{"filter": "datum.panel == 'D' && datum.sex == 'Females'"}],
             "mark": {"type": "line", "color": "#1f4672", "strokeWidth": 1.4, "interpolate": "monotone"},
             "encoding": {
               "x": {"field": "hours", "type": "quantitative", "axis": {"values": [3,4,5,6,7,8,9,10,11,12,13], "title": null, "domain": true, "ticks": true, "labels": true, "grid": false, "labelOverlap": false, "labelFlush": false, "domainColor": "#222", "tickColor": "#222", "tickSize": 5, "labelPadding": 2, "labelFontSize": 13.5, "labelFont": "Liberation Sans", "labelColor": "#111"}},
               "y": {"field": "fit", "type": "quantitative", "axis": {"values": [-0.6, -0.4, -0.2, 0, 0.2], "title": null, "domain": false, "ticks": false, "labels": false, "grid": true, "gridColor": "#e4ecef"}}}},
            {"data": {"name": "pvals"}, "transform": [{"filter": "datum.panel == 'D' && datum.sex == 'Females'"}],
             "mark": {"type": "text", "fontSize": 11, "font": "Liberation Sans", "baseline": "middle", "align": "center", "color": "#111"},
             "encoding": {
               "x": {"field": "hours", "type": "quantitative", "axis": {"values": [3,4,5,6,7,8,9,10,11,12,13], "title": null, "domain": true, "ticks": true, "labels": true, "grid": false, "labelOverlap": false, "labelFlush": false, "domainColor": "#222", "tickColor": "#222", "tickSize": 5, "labelPadding": 2, "labelFontSize": 13.5, "labelFont": "Liberation Sans", "labelColor": "#111"}},
               "y": {"field": "y", "type": "quantitative", "axis": {"values": [-0.6, -0.4, -0.2, 0, 0.2], "title": null, "domain": false, "ticks": false, "labels": false, "grid": true, "gridColor": "#e4ecef"}},
               "text": {"field": "label"}}}
          ]}
        ]}
      ]}
    ]}
  ],
  "spacing": 45,
  "config": {
    "font": "Liberation Sans",
    "view": {"stroke": null}
  }
}
